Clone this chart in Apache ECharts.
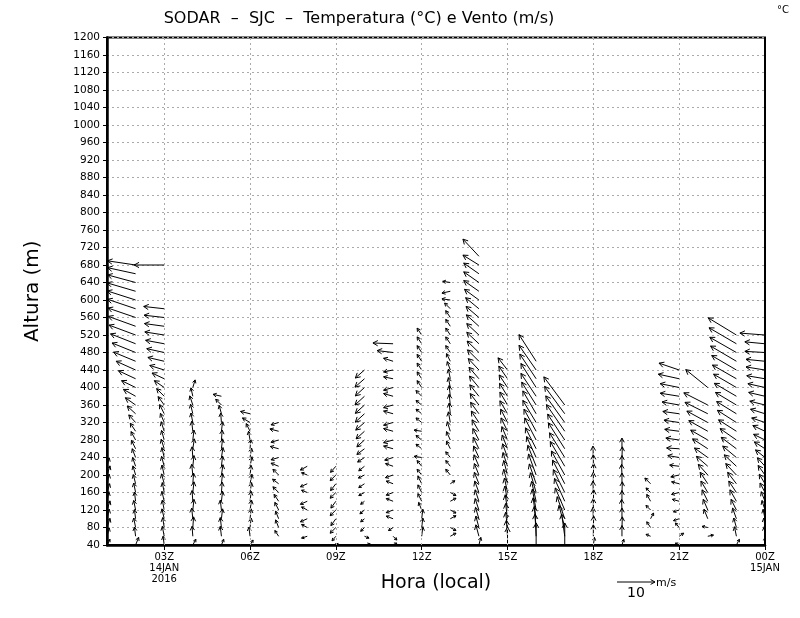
<!DOCTYPE html>
<html><head><meta charset="utf-8">
<script src="https://cdn.jsdelivr.net/npm/echarts@6/dist/echarts.min.js"></script>
<style>html,body{margin:0;padding:0;background:#fff}#c{width:800px;height:618px}</style>
</head><body><div id="c"></div>
<script>
// heights (m) of the SODAR levels, bottom up
const levels = [40,60,80,100,120,140,160,180,200,220,240,260,280,300,320,340,360,380,400,420,440,460,480,500,520,540,560,580,600,620,640,660,680,700,720,740];
// tick labels of the time axis (hour -> label)
const tickHours = [3,6,9,12,15,18,21,24];
const tickLabels = ['03Z\n14JAN\n2016','06Z','09Z','12Z','15Z','18Z','21Z','00Z\n15JAN'];
const yTicks = {min:40, max:1200, step:40};

// wind components (m/s) per hour, listed from 40 m upward
const U01 = [0.8,0.6,0.8,0.6,0.8,0.5,0.7,0.6,0.8,0.6];
const V01 = [1.5,2.2,2.4,2.5,2.4,2.5,2.3,2.5,2.4,2.2];
const U02 = [0.8,-0.3,-0.5,-0.3,-0.5,-0.3,-0.5,-0.6,-0.7,-0.8,-0.9,-1.1,-1.2,-1.4,-1.8,-2.2,-2.7,-3.2,-3.7,-4.5,-5.1,-5.8,-6.2,-6.6,-7.0,-7.2,-7.3,-7.4,-7.5,-7.5,-7.4,-7.4,-7.4];
const V02 = [2.0,2.4,2.5,2.4,2.5,2.4,2.5,2.4,2.4,2.3,2.3,2.2,2.2,2.1,2.0,2.0,1.9,1.8,1.8,2.1,2.3,2.4,2.5,2.6,2.6,2.6,2.5,2.5,2.4,2.2,2.0,1.6,1.1];
const U03 = [-0.3,-0.5,-0.4,-0.6,-0.5,-0.6,-0.5,-0.7,-0.6,-0.7,-0.6,-0.8,-0.7,-0.8,-1.0,-1.2,-1.6,-2.0,-2.6,-3.2,-3.8,-4.3,-4.6,-4.9,-5.1,-5.2,-5.3,-5.4,null,null,null,null,-7.9];
const V03 = [2.3,2.6,2.6,2.6,2.6,2.6,2.6,2.6,2.6,2.6,2.6,2.5,2.5,2.5,2.4,2.4,2.2,2.0,1.8,1.5,1.2,1.0,1.0,0.9,0.8,0.7,0.6,0.6,null,null,null,null,0.0];
const U04 = [0.8,-0.2,0.2,-0.3,0.3,-0.2,0.3,0.2,-0.3,0.3,-0.2,0.4,0.3,-0.3,-0.5,-0.6,-0.8,-0.5,0.6];
const V04 = [1.5,2.6,2.8,2.8,2.8,2.8,2.8,2.8,2.8,2.8,2.8,2.6,2.6,2.6,2.5,2.5,2.4,2.2,2.0];
const U05 = [0.6,-0.3,-0.3,0.3,-0.3,0.3,0.2,0.3,0.4,0.3,0.4,0.3,0.2,0.3,-0.2,-0.6,-1.5,-2.2];
const V05 = [1.5,2.6,2.6,2.6,2.6,2.6,2.7,2.7,2.7,2.7,2.6,2.6,2.6,2.5,2.5,2.2,1.5,0.5];
const U06 = [0.8,-0.3,0.3,0.3,0.4,0.3,0.4,0.5,0.3,0.5,0.4,0.2,-0.4,-1.0,-2.0,-2.5];
const V06 = [1.3,2.4,2.5,2.6,2.6,2.6,2.6,2.5,2.5,2.5,2.5,2.4,2.3,2.0,1.2,0.6];
const U07 = [-1.0,-1.0,-0.8,-0.8,-1.0,-1.2,-1.5,-1.6,-1.5,-2.0,-2.0,-2.2,-2.0,-2.3,-2.0];
const V07 = [-1.0,1.5,2.0,2.0,2.0,1.8,1.5,1.2,1.5,0.8,-0.6,0.6,-0.6,0.6,-0.6];
const U08 = [0.2,-1.5,-1.5,-1.8,-1.5,-1.8,-1.5,-1.8,-1.5,-1.8];
const V08 = [-1.8,-0.5,0.8,-0.8,0.8,-0.8,0.6,-0.8,0.6,-1.0];
const U09 = [0.6,-1.0,-1.5,-1.3,-1.5,-1.3,-1.5,-1.4,-1.5,-1.4];
const V09 = [0.4,-1.2,-1.5,-1.8,-1.5,-1.8,-1.5,-1.8,-1.5,-1.6];
const U10 = [1.5,1.2,-1.0,-1.0,-1.2,-1.0,-1.5,-1.5,-1.6,-1.5,-1.8,-2.0,-2.0,-2.2,-2.3,-2.4,-2.4,-2.5,-2.4,-2.5,-2.4];
const V10 = [0.3,-0.5,-1.0,-0.8,-1.0,-0.8,-0.8,-1.0,-0.8,-1.2,-1.2,-1.5,-1.8,-2.0,-2.0,-2.2,-2.2,-2.3,-2.2,-2.2,-2.1];
const U11 = [1.0,1.0,-1.2,-1.8,-1.8,-1.8,-1.8,-1.8,-2.0,-2.0,-2.2,-2.5,-2.5,-2.5,-2.5,-2.5,-2.5,-2.5,-2.5,-2.5,-2.5,-2.5,-4.2,-5.3];
const V11 = [0.5,-1.0,-0.8,0.7,-0.7,0.7,-0.7,0.7,-0.7,0.7,-0.7,0.7,-0.7,0.7,-0.7,0.7,-0.7,0.7,-0.7,0.5,-0.5,0.8,0.5,0.2];
const U12 = [0.5,0.3,0.3,0.3,-0.8,-1.0,-1.0,-1.0,-1.2,-1.2,-2.0,-1.5,-1.5,-2.0,-1.5,-1.5,-1.5,-1.5,-1.2,-1.2,-1.2,-1.2,-1.2,-1.2,-1.2];
const V12 = [-1.5,2.5,2.5,2.5,2.0,2.0,2.0,2.0,1.5,1.5,0.3,1.2,1.2,0.3,1.2,1.2,1.2,1.5,1.8,1.8,1.8,1.8,1.8,1.8,1.8];
const U13 = [1.2,1.5,1.5,1.5,1.5,1.5,1.5,1.2,-1.2,-1.2,-1.2,-1.0,-1.0,-0.8,-0.5,-0.3,-0.3,-0.3,-0.5,-0.5,-0.8,-1.0,-1.2,-1.2,-1.2,-1.2,-1.2,-1.5,-2.2,-2.2,-2.0];
const V13 = [-1.0,0.8,-0.8,0.8,-0.8,0.8,-0.8,0.8,1.5,1.5,1.5,2.0,2.2,2.5,2.8,2.8,2.8,2.8,2.6,2.5,2.2,2.0,1.8,1.8,1.8,1.8,1.8,1.5,0.3,-0.5,0.3];
const U14 = [0.5,-0.8,-0.8,-0.9,-1.0,-1.0,-1.1,-1.2,-1.2,-1.3,-1.4,-1.5,-1.6,-1.8,-2.0,-2.2,-2.3,-2.4,-2.5,-2.6,-2.8,-3.0,-3.1,-3.2,-3.2,-3.3,-3.4,-3.5,-3.8,-4.0,-4.0,-4.0,-4.2,-4.2];
const V14 = [2.0,3.0,3.0,3.0,3.0,3.0,3.0,3.0,3.0,3.0,3.0,3.0,3.0,3.0,3.0,3.0,3.0,3.0,3.0,3.0,3.0,3.0,3.0,3.0,3.0,3.0,2.9,2.9,2.8,2.8,2.8,2.8,2.6,4.5];
const U15 = [0.0,-0.3,-0.5,-0.5,-0.6,-0.7,-0.8,-1.0,-1.0,-1.2,-1.3,-1.4,-1.5,-1.7,-1.8,-2.0,-2.0,-2.1,-2.2,-2.3,-2.5];
const V15 = [4.7,4.2,4.0,4.0,4.0,4.0,3.8,3.8,3.8,3.6,3.6,3.6,3.5,3.5,3.5,3.4,3.4,3.4,3.3,3.3,3.2];
const U16 = [0.0,-0.3,-0.5,-0.8,-1.0,-1.2,-1.5,-1.8,-2.0,-2.2,-2.5,-2.8,-3.0,-3.2,-3.5,-3.5,-3.8,-4.0,-4.0,-4.3,-4.5,-4.5];
const V16 = [5.8,5.8,5.5,5.5,5.5,5.2,5.2,5.2,5.5,5.5,5.5,5.5,5.8,5.8,5.8,6.0,6.0,6.0,6.3,6.5,6.5,7.0];
const U17 = [0.0,-0.8,-1.5,-2.0,-2.5,-2.7,-3.0,-3.2,-3.5,-3.8,-4.0,-4.3,-4.5,-4.8,-5.0,-5.3,-5.5];
const V17 = [5.8,5.8,5.8,5.8,5.8,6.0,6.0,6.2,6.3,6.5,6.5,6.8,6.8,7.0,7.0,7.2,7.4];
const U18 = [0.3,0.0,0.1,-0.1,0.0,0.1,-0.1,0.0,0.1,0.0,-0.1];
const V18 = [2.0,3.0,3.0,3.0,3.0,3.0,3.0,3.0,3.0,3.0,3.0];
const U19 = [0.5,0.0,0.1,0.0,-0.1,0.0,0.1,0.0,-0.1,0.0,0.1,0.0];
const V19 = [1.5,2.8,2.8,2.8,2.8,2.8,2.8,2.8,2.8,2.8,2.8,2.8];
const U20 = [-1.0,-1.2,-1.0,0.8,-1.2,-1.0,-1.2,-1.5];
const V20 = [-1.0,0.5,1.5,1.5,1.2,1.8,1.2,1.5];
const U21 = [-1.0,1.2,-1.0,-1.5,-1.5,-1.8,-2.0,-2.0,-2.2,-2.5,-3.0,-3.3,-3.5,-3.8,-4.0,-4.3,-4.5,-5.0,-5.0,-5.5,-5.3];
const V21 = [0.5,0.8,1.2,-0.5,-0.5,0.5,-0.5,0.5,-0.5,0.3,0.5,0.2,0.5,0.5,0.6,0.6,0.8,0.8,1.0,1.2,1.8];
const U22 = [0.5,1.5,-1.5,-1.0,-1.2,-1.5,-1.8,-2.0,-2.5,-3.0,-3.5,-4.0,-4.5,-5.0,-5.5,-6.0,-6.3,null,-5.8];
const V22 = [-1.0,0.3,0.3,2.5,2.8,3.0,3.0,3.0,2.8,2.6,2.5,2.6,2.6,2.8,3.0,3.0,3.2,null,4.7];
const U23 = [0.8,-0.5,-0.7,-1.0,-1.4,-1.7,-2.0,-2.3,-2.8,-3.2,-3.6,-4.0,-4.3,-4.7,-5.0,-5.2,-5.5,-5.8,-6.0,-6.3,-6.5,-6.8,-7.0,-7.2,-7.4];
const V23 = [1.5,2.5,2.5,2.8,2.8,3.0,3.0,3.0,3.0,3.0,3.0,3.0,3.0,3.0,3.2,3.2,3.3,3.4,3.5,3.6,3.8,4.0,4.0,4.2,4.5];
const U24 = [0.0,-0.2,-0.3,-0.5,-0.8,-1.0,-1.3,-1.5,-1.8,-2.0,-2.5,-2.8,-3.0,-3.2,-3.5,-3.8,-4.0,-4.3,-4.5,-4.8,-5.0,-5.0,-5.3,-5.3,-6.6];
const V24 = [2.0,2.5,2.5,2.5,2.5,2.5,2.5,2.5,2.5,2.2,2.0,1.8,1.5,1.5,1.2,1.2,1.0,1.0,1.0,0.8,0.8,0.5,0.3,0.5,0.5];

const columns = [[1,U01,V01],[2,U02,V02],[3,U03,V03],[4,U04,V04],[5,U05,V05],[6,U06,V06],
  [7,U07,V07],[8,U08,V08],[9,U09,V09],[10,U10,V10],[11,U11,V11],[12,U12,V12],
  [13,U13,V13],[14,U14,V14],[15,U15,V15],[16,U16,V16],[17,U17,V17],[18,U18,V18],
  [19,U19,V19],[20,U20,V20],[21,U21,V21],[22,U22,V22],[23,U23,V23],[24,U24,V24]];

const vectors = [];
columns.forEach(function(c){
  const h = c[0], U = c[1], V = c[2];
  U.forEach(function(u, i){
    if (u !== null && V[i] !== null) vectors.push([h, levels[i], u, V[i]]);
  });
});

const PX_PER_MS = 3.8; // vector length scale (10 m/s reference arrow)
const FONT = 'DejaVu Sans';

function headPts(tip, ang, hl){
  const a1 = ang + Math.PI - 0.5, a2 = ang + Math.PI + 0.5;
  return [[tip[0] + hl*Math.cos(a1), tip[1] + hl*Math.sin(a1)], tip,
          [tip[0] + hl*Math.cos(a2), tip[1] + hl*Math.sin(a2)]];
}

function renderArrow(params, api){
  const p = api.coord([api.value(0), api.value(1)]);
  const dx = api.value(2) * PX_PER_MS, dy = -api.value(3) * PX_PER_MS;
  const len = Math.sqrt(dx*dx + dy*dy);
  const tip = [p[0] + dx, p[1] + dy];
  const ang = Math.atan2(dy, dx);
  const hl = Math.min(5.5, Math.max(3, len * 0.45));
  const st = {stroke:'#000', lineWidth:1, fill:null};
  return {type:'group', children:[
    {type:'polyline', shape:{points:[p, tip]}, style:st},
    {type:'polyline', shape:{points:headPts(tip, ang, hl)}, style:st}
  ]};
}

const chart = echarts.init(document.getElementById('c'), null, {renderer:'canvas'});
const gridLineStyle = {color:'#aaa', width:1, type:[2,3]};
chart.setOption({
  animation:false,
  backgroundColor:'#fff',
  title:{
    text:'SODAR  –  SJC  –  Temperatura (°C) e Vento (m/s)',
    left:354, top:6, textAlign:'center',
    textStyle:{fontFamily:FONT, fontSize:16, fontWeight:'normal', color:'#000'}
  },
  grid:{left:107, right:35, top:37.5, bottom:73, show:true, borderColor:'#000', borderWidth:2, backgroundColor:'transparent'},
  xAxis:{
    type:'value', min:1, max:24,
    axisLine:{show:true, lineStyle:{color:'#000', width:2.5}},
    axisTick:{show:true, customValues:tickHours, length:5, lineStyle:{color:'#000', width:1}},
    axisLabel:{show:true, customValues:tickHours, margin:7, color:'#000', fontFamily:FONT, fontSize:10, lineHeight:11,
      formatter:function(v){ const i = tickHours.indexOf(Math.round(v)); return i >= 0 ? tickLabels[i] : ''; }},
    splitLine:{show:false},
    name:'Hora (local)', nameLocation:'middle', nameGap:29, nameMoveOverlap:false,
    nameTextStyle:{fontFamily:FONT, fontSize:19, color:'#000'}
  },
  yAxis:{
    type:'value', min:yTicks.min, max:yTicks.max, interval:yTicks.step,
    axisLine:{show:true, lineStyle:{color:'#000', width:2.5}},
    axisTick:{show:true, length:4, lineStyle:{color:'#000'}},
    axisLabel:{color:'#000', fontFamily:FONT, fontSize:10.5, margin:7,
      formatter:function(v){ return String(v); }},
    splitLine:{show:true, lineStyle:gridLineStyle},
    name:'Altura (m)', nameLocation:'middle', nameGap:64, nameRotate:90, nameMoveOverlap:false,
    nameTextStyle:{fontFamily:FONT, fontSize:20, color:'#000'}
  },
  series:[
    {
      type:'line', data:[], silent:true,
      markLine:{silent:true, symbol:['none','none'], label:{show:false}, lineStyle:gridLineStyle,
        data:tickHours.filter(function(h){return h < 24;}).map(function(h){return {xAxis:h};})}
    },
    {
      type:'custom', renderItem:renderArrow, data:vectors, clip:true, silent:true,
      encode:{x:0, y:1}
    }
  ],
  graphic:[
    {type:'text', left:777, top:5, style:{text:'°C', fontFamily:FONT, fontSize:10, fill:'#000'}},
    {type:'polyline', shape:{points:[[617,582],[655,582]]}, style:{stroke:'#000', lineWidth:1, fill:null}},
    {type:'polyline', shape:{points:headPts([655,582], 0, 5)}, style:{stroke:'#000', lineWidth:1, fill:null}},
    {type:'text', left:627, top:586, style:{text:'10', fontFamily:FONT, fontSize:14, fill:'#000'}},
    {type:'text', left:656, top:578, style:{text:'m/s', fontFamily:FONT, fontSize:11, fill:'#000'}}
  ]
});
</script>
</body></html>
